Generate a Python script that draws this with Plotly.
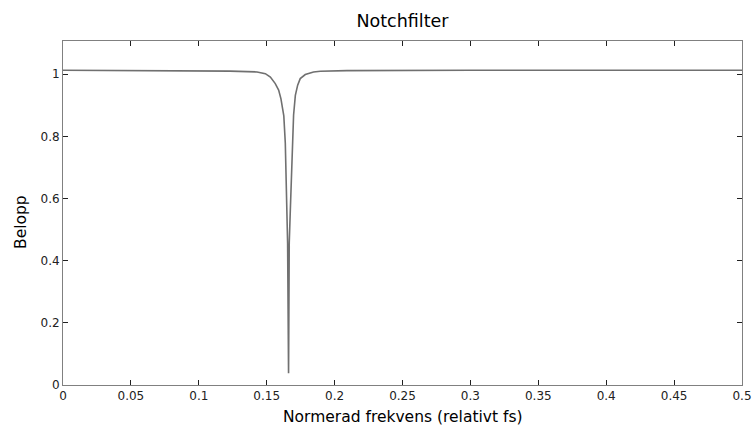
import plotly.graph_objects as go

# Normalized frequency (relative fs) and magnitude
freq = [0.0, 0.10, 0.123, 0.1429, 0.149, 0.1527, 0.1563, 0.1588, 0.1605, 0.1617,
        0.1626, 0.1637, 0.1644, 0.1649, 0.1654, 0.1661, 0.1666, 0.1674, 0.1681,
        0.1691, 0.1698, 0.1711, 0.1728, 0.1747, 0.1784, 0.1845, 0.1895, 0.209,
        0.30, 0.5]
mag = [1.013, 1.012, 1.010, 1.0074, 1.002, 0.991, 0.970, 0.949, 0.921, 0.889,
       0.866, 0.779, 0.670, 0.563, 0.457, 0.038, 0.457, 0.563, 0.670,
       0.779, 0.869, 0.932, 0.965, 0.986, 0.999, 1.0074, 1.0097, 1.0116,
       1.013, 1.013]

xticks = [0, 0.05, 0.1, 0.15, 0.2, 0.25, 0.3, 0.35, 0.4, 0.45, 0.5]
xticklabels = ["0", "0.05", "0.1", "0.15", "0.2", "0.25", "0.3", "0.35", "0.4", "0.45", "0.5"]
yticks = [0, 0.2, 0.4, 0.6, 0.8, 1.0]
yticklabels = ["0", "0.2", "0.4", "0.6", "0.8", "1"]

font = "DejaVu Sans, sans-serif"
W, H = 753, 427
L, R, T, B = 63, 11, 41, 42
PH = H - T - B

fig = go.Figure()
fig.add_trace(go.Scatter(x=freq, y=mag, mode="lines",
                         line=dict(color="#707070", width=1.6),
                         showlegend=False, hoverinfo="skip"))

axis_common = dict(showgrid=False, zeroline=False, showline=True, mirror="ticks",
                   linecolor="#808080", linewidth=1, ticks="inside", ticklen=5,
                   tickcolor="#202020", tickwidth=1, automargin=False,
                   tickfont=dict(family=font, size=12, color="#222222"))

fig.update_layout(
    width=W, height=H,
    margin=dict(l=L, r=R, t=T, b=B),
    paper_bgcolor="white", plot_bgcolor="white",
    title=dict(text="Notchfilter", x=0.5, xref="paper", xanchor="center",
               y=1 - 21 / H, yref="container", yanchor="middle",
               font=dict(family=font, size=17.5, color="#000000")),
    xaxis=dict(range=[0, 0.5], tickvals=xticks, ticktext=xticklabels, **axis_common),
    yaxis=dict(range=[0, 1.107], tickvals=yticks, ticktext=yticklabels, **axis_common),
    annotations=[
        dict(text="Normerad frekvens (relativt fs)", xref="paper", yref="paper",
             x=0.5, y=0, xanchor="center", yanchor="middle", yshift=-(417 - (H - B)),
             showarrow=False, font=dict(family=font, size=15.5, color="#000000")),
        dict(text="Belopp", xref="paper", yref="paper", textangle=-90,
             x=0, y=(H - B - 222) / PH, xanchor="center", yanchor="middle",
             xshift=-(L - 21), showarrow=False,
             font=dict(family=font, size=15.5, color="#000000")),
    ],
)

fig.write_html("out.html")
